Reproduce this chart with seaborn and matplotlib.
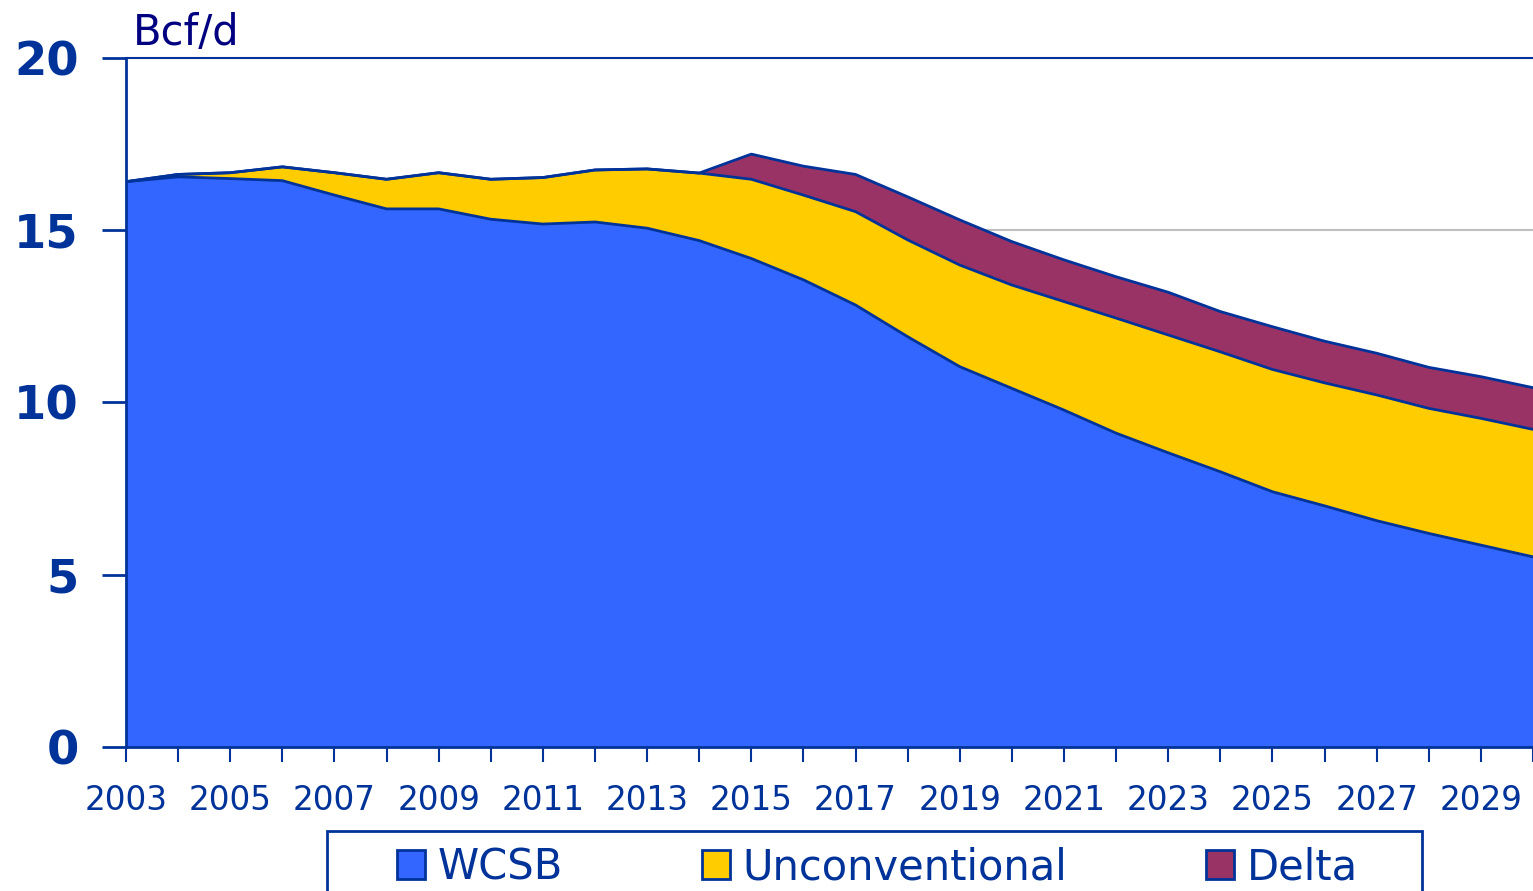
import numpy as np
import pandas as pd
import matplotlib
matplotlib.use("Agg")
import matplotlib.pyplot as plt
import seaborn as sns
from matplotlib.patches import Patch, Rectangle

years = list(range(2003, 2031))
wcsb = [16.41, 16.55, 16.50, 16.44, 16.02, 15.62, 15.62, 15.32, 15.18, 15.24,
        15.06, 14.70, 14.18, 13.56, 12.83, 11.91, 11.04, 10.41, 9.78, 9.11,
        8.54, 7.99, 7.41, 7.00, 6.57, 6.20, 5.86, 5.52]
unconventional = [0.00, 0.07, 0.17, 0.40, 0.65, 0.86, 1.05, 1.16, 1.35, 1.51,
                  1.72, 1.96, 2.30, 2.46, 2.71, 2.81, 2.95, 3.00, 3.15, 3.34,
                  3.42, 3.48, 3.55, 3.57, 3.65, 3.63, 3.68, 3.70]
delta = [0, 0, 0, 0, 0, 0, 0, 0, 0, 0,
         0, 0, 0.73, 0.84, 1.08, 1.25, 1.31, 1.26, 1.21, 1.20,
         1.24, 1.17, 1.24, 1.21, 1.21, 1.19, 1.21, 1.21]
series_names = ["WCSB", "Unconventional", "Delta"]
colors = ["#3366FF", "#FFCC00", "#993366"]
navy = "#003399"

sns.set_theme(style="white")
plt.rcParams["font.family"] = ["DejaVu Sans"]

df = pd.DataFrame({"year": years, "WCSB": wcsb,
                   "Unconventional": unconventional, "Delta": delta})
df["top_wcsb"] = df["WCSB"]
df["top_unconv"] = df["top_wcsb"] + df["Unconventional"]
df["top_delta"] = df["top_unconv"] + df["Delta"]

W, H = 1533, 891
fig = plt.figure(figsize=(W / 100, H / 100), dpi=100)
ax = fig.add_axes([126 / W, 144 / H, (W - 126) / W, (747 - 58) / H])

# gridlines behind the areas
for yv in [5, 10, 15]:
    ax.axhline(yv, color="#C0C0C0", lw=1.5, zorder=0)
ax.axhline(20, color=navy, lw=1.5, zorder=0, clip_on=False)

tops = ["top_wcsb", "top_unconv", "top_delta"]
prev = np.zeros(len(years))
for name, col, top in zip(series_names, colors, tops):
    ax.fill_between(df["year"], prev, df[top], color=col, lw=0, zorder=1)
    prev = df[top].values

for top in tops:
    sns.lineplot(data=df, x="year", y=top, ax=ax, color=navy, lw=2,
                 zorder=2, legend=False)

ax.set_xlim(2003, 2003 + (W - 126) / 52.46)
ax.set_ylim(0, 20)
ax.set_xlabel("")
ax.set_ylabel("")

ax.set_xticks(range(2003, 2031))
ax.set_xticklabels([str(y) if (y - 2003) % 2 == 0 else "" for y in range(2003, 2031)])
ax.set_yticks([0, 5, 10, 15, 20])

for s in ["top", "right"]:
    ax.spines[s].set_visible(False)
for s in ["left", "bottom"]:
    ax.spines[s].set_color(navy)
    ax.spines[s].set_linewidth(2)
    ax.spines[s].set_zorder(3)

ax.tick_params(axis="x", direction="out", length=11, width=1.5, color=navy,
               pad=16, labelsize=23.5, labelcolor=navy, bottom=True)
ax.tick_params(axis="y", direction="out", length=17, width=2, color=navy,
               pad=17, labelsize=33.5, labelcolor=navy, left=True)
for lab in ax.get_yticklabels():
    lab.set_fontweight("bold")

fig.text(133 / W, 1 - 45 / H, "Bcf/d", fontsize=30, color="#000080",
         ha="left", va="baseline")

# legend
handles = [Patch(facecolor=c, edgecolor=navy, lw=2) for c in colors]
fig.legend(handles, series_names, loc="center left",
           bbox_to_anchor=(397 / W, 1 - 867 / H), ncol=3, frameon=False,
           fontsize=30, labelcolor=navy, handlelength=0.67, handleheight=0.7,
           handletextpad=0.31, columnspacing=3.33, borderaxespad=0, borderpad=0)
fig.patches.append(Rectangle((327 / W, -0.05), (1422 - 327) / W, (891 - 831) / H + 0.05,
                             transform=fig.transFigure, fill=False,
                             edgecolor=navy, lw=2))

fig.savefig("out.png", dpi=100)
